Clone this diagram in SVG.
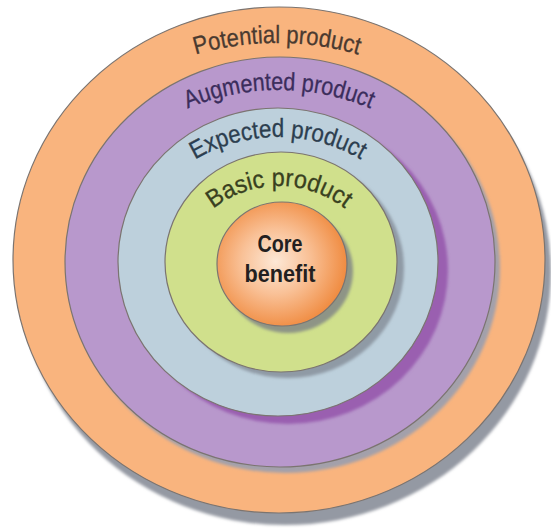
<svg xmlns="http://www.w3.org/2000/svg" width="551" height="531" viewBox="0 0 551 531">
<defs>
<filter id="blur" x="-10%" y="-10%" width="120%" height="120%"><feGaussianBlur stdDeviation="1.5"/></filter>
<radialGradient id="coreGrad" cx="0.45" cy="0.48" r="0.58">
<stop offset="0" stop-color="#fde8d6"/>
<stop offset="0.45" stop-color="#f9c197"/>
<stop offset="1" stop-color="#ef8638"/>
</radialGradient>
<path id="arcPot" d="M -12 332 A 289 289 0 0 1 566 332"/>
<path id="arcAug" d="M 45 324 A 234 234 0 0 1 513 324"/>
<path id="arcExp" d="M 114 301 A 164 164 0 0 1 442 301"/>
<path id="arcBas" d="M 172 293 A 107 107 0 0 1 386 293"/>
</defs>
<style>
.ring{stroke:#7b7470;stroke-width:1.2}
.shadow{filter:url(#blur)}
.lbl{font-family:"Liberation Sans",Arial,sans-serif;font-size:25px;stroke-width:0.3}
.core{font-family:"Liberation Sans",Arial,sans-serif;font-size:23px;font-weight:bold;fill:#231f20;text-anchor:middle}
</style>
<rect width="551" height="531" fill="#ffffff"/>
<g id="potential-product">
<ellipse class="shadow" cx="285" cy="272" rx="266" ry="253" fill="#9499a3"/>
<ellipse class="ring" cx="279" cy="260" rx="266" ry="253" fill="#f9b47e"/>
<text class="lbl" fill="#4a3a30" stroke="#4a3a30"><textPath href="#arcPot" startOffset="50%" text-anchor="middle" textLength="165" lengthAdjust="spacingAndGlyphs">Potential product</textPath></text>
</g>
<g id="augmented-product">
<ellipse class="shadow" cx="285" cy="268" rx="215" ry="205" fill="#a3a0aa"/>
<ellipse class="ring" cx="280" cy="262" rx="215" ry="205" fill="#b898cc"/>
<text class="lbl" fill="#3b2d5c" stroke="#3b2d5c"><textPath href="#arcAug" startOffset="50%" text-anchor="middle" textLength="188" lengthAdjust="spacingAndGlyphs">Augmented product</textPath></text>
</g>
<g id="expected-product">
<ellipse class="shadow" cx="288" cy="270" rx="160" ry="154" fill="#9a5fb0"/>
<ellipse class="ring" cx="278" cy="262" rx="160" ry="154" fill="#bdd0dc"/>
<text class="lbl" fill="#2c3e4f" stroke="#2c3e4f"><textPath href="#arcExp" startOffset="50%" text-anchor="middle" textLength="174" lengthAdjust="spacingAndGlyphs">Expected product</textPath></text>
</g>
<g id="basic-product">
<ellipse class="shadow" cx="288" cy="268" rx="116" ry="110" fill="#8f9aa5"/>
<ellipse class="ring" cx="281" cy="262" rx="116" ry="110" fill="#d0e08c"/>
<text class="lbl" fill="#394020" stroke="#394020"><textPath href="#arcBas" startOffset="50%" text-anchor="middle" textLength="142" lengthAdjust="spacingAndGlyphs">Basic product</textPath></text>
</g>
<g id="core-benefit">
<ellipse class="shadow" cx="288" cy="271" rx="65" ry="62" fill="#8e9486"/>
<ellipse class="ring" cx="282" cy="264" rx="65" ry="62" fill="url(#coreGrad)"/>
<text class="core" x="280" y="252" textLength="45" lengthAdjust="spacingAndGlyphs">Core</text>
<text class="core" x="280" y="282" textLength="71" lengthAdjust="spacingAndGlyphs">benefit</text>
</g>
</svg>
